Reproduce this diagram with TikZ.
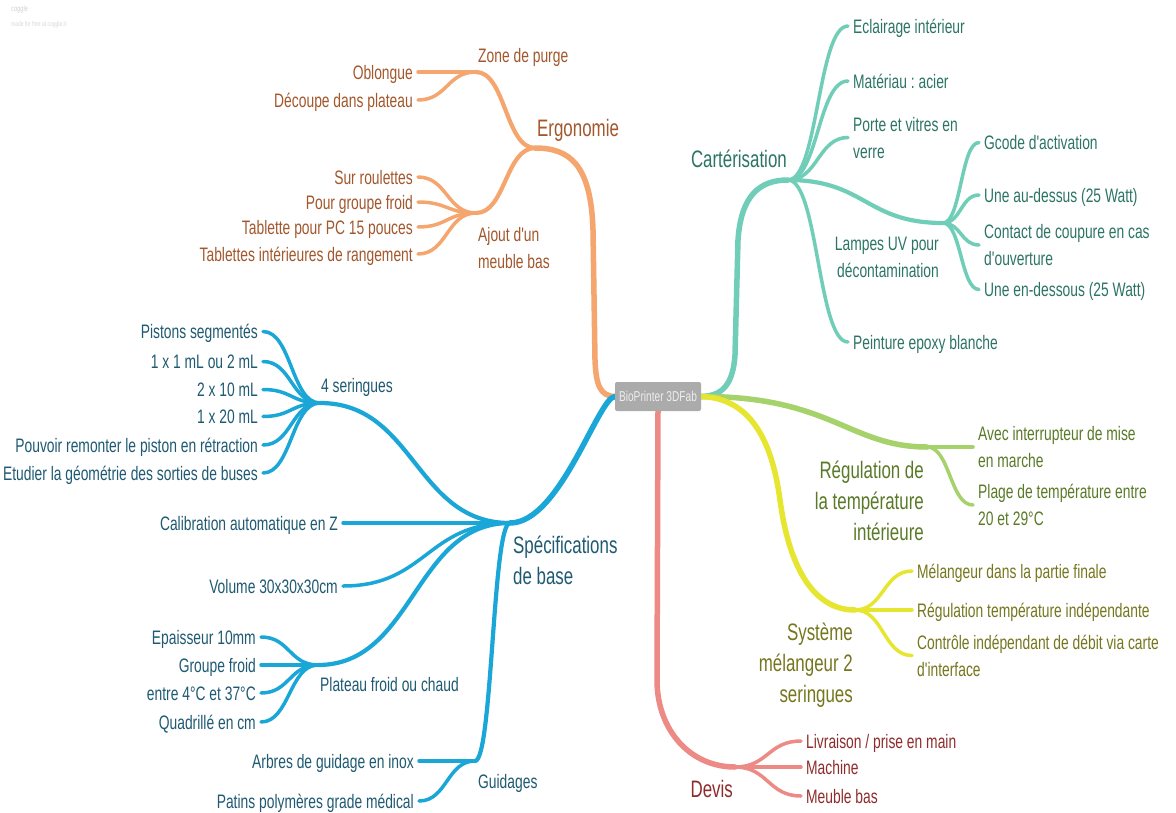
\documentclass[tikz,border=0pt]{standalone}
\usepackage{fontspec}
\setmainfont{Liberation Sans}[FakeStretch=0.71, Ligatures=TeXOff]
\usetikzlibrary{calc}
\pgfdeclarelayer{bg}
\pgfsetlayers{bg,main}
\definecolor{orL}{HTML}{F5A66F}
\definecolor{orT}{HTML}{A2572C}
\definecolor{teL}{HTML}{6FCDB8}
\definecolor{teT}{HTML}{2C7565}
\definecolor{grL}{HTML}{A6D26C}
\definecolor{grT}{HTML}{5A7A28}
\definecolor{yeL}{HTML}{E6E630}
\definecolor{yeT}{HTML}{76761E}
\definecolor{reL}{HTML}{EE8A85}
\definecolor{reT}{HTML}{8E2C2C}
\definecolor{blL}{HTML}{1AA6D6}
\definecolor{blT}{HTML}{1F5A72}
\definecolor{rootF}{HTML}{ABABAB}
\definecolor{rootT}{HTML}{EEEEEE}
\tikzset{
  sc/.style={to path={let \p1=(\tikztostart), \p2=(\tikztotarget) in
      .. controls ({0.5*\x1+0.5*\x2},\y1) and ({0.5*\x1+0.5*\x2},\y2) .. (\tikztotarget) \tikztonodes}},
  mainline/.style={line width=5.5pt, line cap=round},
  subline/.style={line width=4.2pt, line cap=round},
  leafline/.style={line width=3.5pt, line cap=round},
  lf/.style={font=\fontsize{19.5}{27}\selectfont, inner xsep=5pt, inner ysep=0pt, text height=14pt, text depth=0pt},
  lftwo/.style={lf, align=left, text height=41pt, text depth=0pt},
  sublbl/.style={font=\fontsize{19.5}{26.5}\selectfont, inner sep=0pt},
  mainlbl/.style={font=\fontsize{23.8}{31}\selectfont, inner sep=0pt},
  rootbox/.style={fill=rootF, rounded corners=2pt, minimum width=86pt, minimum height=29pt, inner sep=0pt,
      text=rootT, font=\fontsize{14.3}{16}\selectfont},
}
\frenchspacing
\begin{document}
\frenchspacing
\begin{tikzpicture}[x=1pt,y=-1pt]
\useasboundingbox (0,0) rectangle (1176,812);

% logo
\node[anchor=west, inner sep=0pt, text=black!18, font=\fontsize{8}{8}\selectfont] (logoa) at (11,9) {coggle};
\node[anchor=west, inner sep=0pt, text=black!15, font=\fontsize{7}{7}\selectfont] (logob) at (11,25) {made for free at coggle.it};

% root
\node[rootbox] (root) at (658,396.5) {BioPrinter 3DFab};

% junctions
\coordinate (ergo) at (535,148);
\coordinate (zone) at (476,72);
\coordinate (ajout) at (476,213);
\coordinate (cart) at (788,180);
\coordinate (lamp) at (943,223);
\coordinate (regul) at (927,447);
\coordinate (sys) at (855,610);
\coordinate (devis) at (735,767);
\coordinate (spec) at (510,523);
\coordinate (ser) at (320,403);
\coordinate (plat) at (318,665);
\coordinate (guid) at (475,761);

% branch labels (base = baseline of last line)
\node[mainlbl, text=orT, anchor=base west] (lergo) at (537,136) {Ergonomie};
\node[sublbl, text=orT, anchor=base west] (lzone) at (478,62) {Zone de purge};
\node[sublbl, text=orT, anchor=base west, align=left] (lajout) at (478,268) {Ajout d'un\\meuble bas};
\node[mainlbl, text=teT, anchor=base east] (lcart) at (787,167) {Cartérisation};
\node[sublbl, text=teT, anchor=base east, align=right] (llamp) at (939,277) {Lampes UV pour\\décontamination};
\node[mainlbl, text=grT, anchor=base east, align=right] (lregul) at (924,540) {Régulation de\\la température\\intérieure};
\node[mainlbl, text=yeT, anchor=base east, align=right] (lsys) at (853,702) {Système\\mélangeur 2\\seringues};
\node[mainlbl, text=reT, anchor=base east] (ldevis) at (733,797) {Devis};
\node[mainlbl, text=blT, anchor=base west, align=left] (lspec) at (513,584.5) {Spécifications\\de base};
\node[sublbl, text=blT, anchor=base west] (lser) at (321,392) {4 seringues};
\node[sublbl, text=blT, anchor=base west] (lplat) at (320,691) {Plateau froid ou chaud};
\node[sublbl, text=blT, anchor=base west] (lguid) at (478,788) {Guidages};

% leaves - orange
\node[lf, text=orT, anchor=east] (o1) at (418,72) {Oblongue};
\node[lf, text=orT, anchor=east] (o2) at (418,100) {Découpe dans plateau};
\node[lf, text=orT, anchor=east] (o3) at (418,177) {Sur roulettes};
\node[lf, text=orT, anchor=east] (o4) at (418,202) {Pour groupe froid};
\node[lf, text=orT, anchor=east] (o5) at (418,227) {Tablette pour PC 15 pouces};
\node[lf, text=orT, anchor=east] (o6) at (418,254) {Tablettes intérieures de rangement};

% leaves - teal
\node[lf, text=teT, anchor=west] (t1) at (848,26) {Eclairage intérieur};
\node[lf, text=teT, anchor=west] (t2) at (848,81) {Matériau : acier};
\node[lftwo, text=teT, anchor=west] (t3) at (848,137.5) {Porte et vitres en\\verre};
\node[lf, text=teT, anchor=west] (t4) at (848,342) {Peinture epoxy blanche};
\node[lf, text=teT, anchor=west] (u1) at (979,142.5) {Gcode d'activation};
\node[lf, text=teT, anchor=west] (u2) at (979,195) {Une au-dessus (25 Watt)};
\node[lftwo, text=teT, anchor=west] (u3) at (979,245) {Contact de coupure en cas\\d'ouverture};
\node[lf, text=teT, anchor=west] (u4) at (979,289.5) {Une en-dessous (25 Watt)};

% leaves - green
\node[lftwo, text=grT, anchor=west] (g1) at (973,447) {Avec interrupteur de mise\\en marche};
\node[lftwo, text=grT, anchor=west] (g2) at (973,505) {Plage de température entre\\20 et 29°C};

% leaves - yellow
\node[lf, text=yeT, anchor=west] (y1) at (912,571) {Mélangeur dans la partie finale};
\node[lf, text=yeT, anchor=west] (y2) at (912,610) {Régulation température indépendante};
\node[lftwo, text=yeT, anchor=west] (y3) at (912,655.5) {Contrôle indépendant de débit via carte\\d'interface};

% leaves - red
\node[lf, text=reT, anchor=west] (r1) at (801,741) {Livraison / prise en main};
\node[lf, text=reT, anchor=west] (r2) at (801,767) {Machine};
\node[lf, text=reT, anchor=west] (r3) at (801,796) {Meuble bas};

% leaves - blue
\node[lf, text=blT, anchor=east] (s1) at (263,331.5) {Pistons segmentés};
\node[lf, text=blT, anchor=east] (s2) at (263,361.5) {1 x 1 mL ou 2 mL};
\node[lf, text=blT, anchor=east] (s3) at (263,389.5) {2 x 10 mL};
\node[lf, text=blT, anchor=east] (s4) at (263,416.5) {1 x 20 mL};
\node[lf, text=blT, anchor=east] (s5) at (263,445) {Pouvoir remonter le piston en rétraction};
\node[lf, text=blT, anchor=east] (s6) at (263,473) {Etudier la géométrie des sorties de buses};
\node[lf, text=blT, anchor=east] (b1) at (343,523) {Calibration automatique en Z};
\node[lf, text=blT, anchor=east] (b2) at (343,586) {Volume 30x30x30cm};
\node[lf, text=blT, anchor=east] (p1) at (261,637) {Epaisseur 10mm};
\node[lf, text=blT, anchor=east] (p2) at (261,665) {Groupe froid};
\node[lf, text=blT, anchor=east] (p3) at (261,693) {entre 4°C et 37°C};
\node[lf, text=blT, anchor=east] (p4) at (261,722) {Quadrillé en cm};
\node[lf, text=blT, anchor=east] (q1) at (419,761) {Arbres de guidage en inox};
\node[lf, text=blT, anchor=east] (q2) at (419,801) {Patins polymères grade médical};

\begin{pgfonlayer}{bg}
\fill[white] (0,0) rectangle (1176,812);
% main branches
\draw[mainline, orL] (root.west) .. controls (600,396) and (596,385) .. (595,360) -- (593,230) .. controls (591,165) and (570,148) .. (ergo);
\draw[mainline, teL] (root.east) .. controls (722,396) and (733,385) .. (735,355) -- (738,240) .. controls (741,195) and (760,180) .. (cart);
\draw[mainline, grL] (root.east) .. controls (830,396) and (850,447) .. (regul);
\draw[mainline, yeL] (root.east) .. controls (750,398) and (772,440) .. (780,500) .. controls (788,560) and (810,610) .. (sys);
\draw[mainline, reL] (root.south) -- (657,680) .. controls (657,730) and (690,767) .. (devis);
\draw[mainline, blL] (root.west) .. controls (598,398) and (560,523) .. (spec);

% sub branches
\draw[subline, orL] (ergo) to[sc] (zone);
\draw[subline, orL] (ergo) to[sc] (ajout);
\draw[subline, teL] (cart) to[sc] (lamp);
\draw[subline, blL] (spec) to[sc] (ser);
\draw[subline, blL] (spec) to[sc] (plat);
\draw[subline, blL] (spec) to[sc] (guid);

% leaves
\foreach \l in {o1,o2} \draw[leafline, orL] (zone) to[sc] (\l.east);
\foreach \l in {o3,o4,o5,o6} \draw[leafline, orL] (ajout) to[sc] (\l.east);
\foreach \l in {t1,t2,t3,t4} \draw[leafline, teL] (cart) to[sc] (\l.west);
\foreach \l in {u1,u2,u3,u4} \draw[leafline, teL] (lamp) to[sc] (\l.west);
\foreach \l in {g1,g2} \draw[leafline, grL] (regul) to[sc] (\l.west);
\foreach \l in {y1,y2,y3} \draw[leafline, yeL] (sys) to[sc] (\l.west);
\foreach \l in {r1,r2,r3} \draw[leafline, reL] (devis) to[sc] (\l.west);
\foreach \l in {s1,s2,s3,s4,s5,s6} \draw[leafline, blL] (ser) to[sc] (\l.east);
\foreach \l in {b1,b2} \draw[leafline, blL] (spec) to[sc] (\l.east);
\foreach \l in {p1,p2,p3,p4} \draw[leafline, blL] (plat) to[sc] (\l.east);
\foreach \l in {q1,q2} \draw[leafline, blL] (guid) to[sc] (\l.east);
\end{pgfonlayer}
\end{tikzpicture}
\end{document}
